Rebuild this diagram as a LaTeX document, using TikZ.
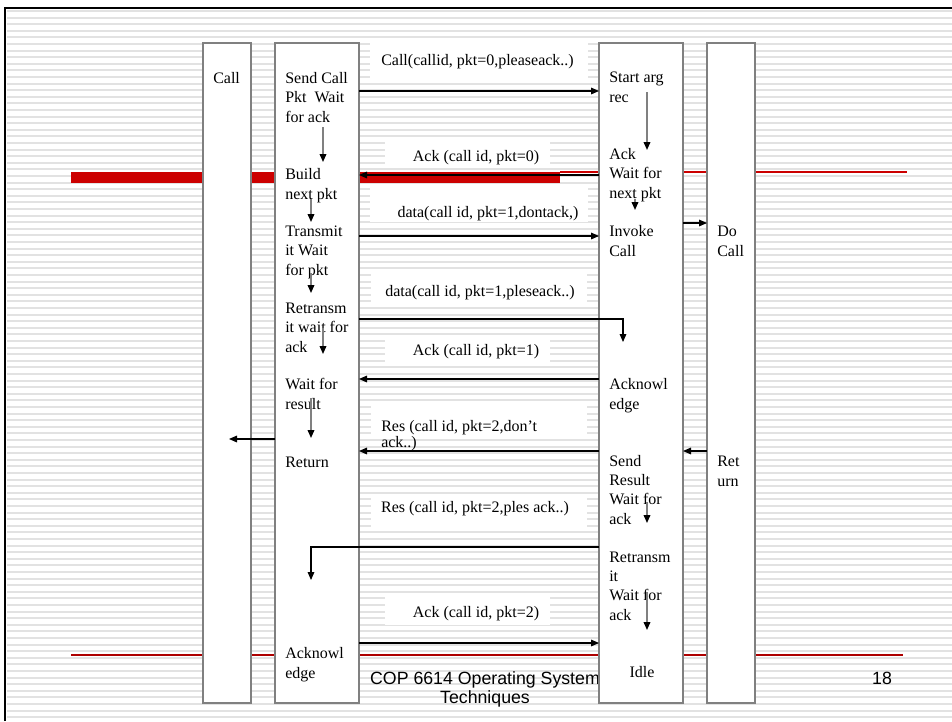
\documentclass[tikz,border=0pt]{standalone}
\usepackage{fontspec}
\setmainfont{Liberation Serif}
\setsansfont{Liberation Sans}
\usetikzlibrary{arrows.meta}
\definecolor{slidered}{HTML}{CC0000}
\definecolor{boxgray}{HTML}{808080}
\definecolor{stripegray}{HTML}{E2E2E2}
\tikzset{
  lifebox/.style={draw=boxgray, line width=1.5pt, fill=white, anchor=north west, inner sep=0pt, outer sep=0pt, minimum height=495pt},
  msg/.style={draw=black, line width=0.8pt, -{Triangle[length=6pt,width=5pt]}},
  inner/.style={draw=boxgray, line width=1.1pt, -{Triangle[length=6pt,width=5pt,color=black]}},
  boxtext/.style={font=\fontsize{12pt}{14.5pt}\selectfont, anchor=base west, align=left, inner sep=0pt},
  lbltext/.style={font=\fontsize{12pt}{14.5pt}\selectfont, anchor=base, inner sep=0pt},
  lblfill/.style={fill=white, draw=none},
  stripe/.style={draw=stripegray, line width=1.5pt},
  foot/.style={font=\sffamily\fontsize{13.3pt}{13.6pt}\selectfont, inner sep=0pt}
}
\begin{document}
\begin{tikzpicture}[x=0.75pt,y=-0.75pt]
\useasboundingbox (0,0) rectangle (952,721);
\fill[white] (0,0) rectangle (952,721);
% background stripes
\foreach \yy in {11,17.6,...,721} \draw[stripe] (7,\yy) -- (952,\yy);
% frame (top and left edges)
\draw[black, line width=1.5pt] (5,721) -- (5,7.5) -- (952,7.5);
% template red lines
\fill[slidered] (71,172) rectangle (560,183);
\draw[slidered, line width=1.4pt] (560,172) -- (907,172);
\draw[slidered!85!black, line width=0.9pt] (71,655) -- (903,655);
% footer
\node[foot, anchor=base, align=center] (foot) at (485,703) {COP 6614 Operating System\\Techniques};
\node[foot, anchor=base] (pageno) at (882,684) {18};
% label backgrounds
\fill[lblfill] (370,43) rectangle (588,79);
\fill[lblfill] (385,137) rectangle (550,167);
\fill[lblfill] (370,187) rectangle (588,222);
\fill[lblfill] (371,270) rectangle (587,305);
\fill[lblfill] (385,338) rectangle (550,365);
\fill[lblfill] (371,403) rectangle (587,434);
\fill[lblfill] (371,497) rectangle (587,527);
\fill[lblfill] (385,595) rectangle (550,625);
% lifeline boxes
\node[lifebox, minimum width=36pt] (b1) at (203,43) {};
\node[lifebox, minimum width=63pt] (b2) at (275,43) {};
\node[lifebox, minimum width=63pt] (b3) at (599,43) {};
\node[lifebox, minimum width=36pt] (b4) at (707,43) {};
% message labels
\node[lbltext] (t1) at (477.5,65) {Call(callid, pkt=0,pleaseack..)};
\node[lbltext] (t2) at (476,161) {Ack (call id, pkt=0)};
\node[lbltext] (t3) at (488,217.5) {data(call id, pkt=1,dontack,)};
\node[lbltext] (t4) at (480,296.5) {data(call id, pkt=1,pleseack..)};
\node[lbltext] (t5) at (476,355) {Ack (call id, pkt=1)};
\node[lbltext, anchor=base west] (t6) at (381,431.5) {Res (call id, pkt=2,don’t};
\node[lbltext, anchor=base west] (t6b) at (381,447) {ack..)};
\node[lbltext] (t7) at (475,512) {Res (call id, pkt=2,ples ack..)};
\node[lbltext] (t8) at (476,617) {Ack (call id, pkt=2)};
% box texts (anchor = baseline of last line)
\node[boxtext] (c1) at (213,83) {Call};
\node[boxtext] (s1) at (285,122) {Send Call\\Pkt\ \ Wait\\for ack};
\node[boxtext] (s2) at (285,199) {Build\\next pkt};
\node[boxtext] (s3) at (285,275) {Transmit\\it Wait\\for pkt};
\node[boxtext] (s4) at (285,352) {Retransm\\it wait for\\ack};
\node[boxtext] (s5) at (285,409) {Wait for\\result};
\node[boxtext] (s6) at (285,467) {Return};
\node[boxtext] (s7) at (285,678) {Acknowl\\edge};
\node[boxtext] (r1) at (609,102) {Start arg\\rec};
\node[boxtext] (r2) at (609,198) {Ack\\Wait for\\next pkt};
\node[boxtext] (r3) at (609,256) {Invoke\\Call};
\node[boxtext] (r4) at (609,409) {Acknowl\\edge};
\node[boxtext] (r5) at (609,524) {Send\\Result\\Wait for\\ack};
\node[boxtext] (r6) at (609,620) {Retransm\\it\\Wait for\\ack};
\node[lbltext] (r7) at (642,677) {Idle};
\node[boxtext] (d1) at (717,256) {Do\\Call};
\node[boxtext] (d2) at (717,486) {Ret\\urn};
% messages
\draw[msg] (b2.east |- 0,91) -- (b3.west |- 0,91);
\draw[msg] (b3.west |- 0,175) -- (b2.east |- 0,175);
\draw[msg] (b2.east |- 0,236) -- (b3.west |- 0,236);
\coordinate (k4) at (623,319);
\coordinate (e4) at (623,342);
\draw[msg] (b2.east |- k4) -- (k4) -- (e4);
\draw[msg] (b3.west |- 0,379) -- (b2.east |- 0,379);
\draw[msg] (b3.west |- 0,451) -- (b2.east |- 0,451);
\coordinate (k7) at (311,547);
\coordinate (e7) at (311,580);
\draw[msg] (b3.west |- k7) -- (k7) -- (e7);
\draw[msg] (b2.east |- 0,643) -- (b3.west |- 0,643);
\draw[msg] (b3.east |- 0,223) -- (b4.west |- 0,223);
\draw[msg] (b4.west |- 0,451) -- (b3.east |- 0,451);
\coordinate (e11) at (229,439);
\draw[msg] (b2.west |- e11) -- (e11);
% inner arrows
\draw[inner] (323,127) -- (323,162);
\draw[inner] (311,199) -- (311,222);
\draw[inner] (311,273) -- (311,293);
\draw[inner] (323,328) -- (323,354);
\draw[inner] (311,398) -- (311,438);
\draw[inner] (647,92) -- (647,150);
\draw[inner] (635,199) -- (635,210);
\draw[inner] (647,502) -- (647,523);
\draw[inner] (647,592) -- (647,630);
\end{tikzpicture}
\end{document}
